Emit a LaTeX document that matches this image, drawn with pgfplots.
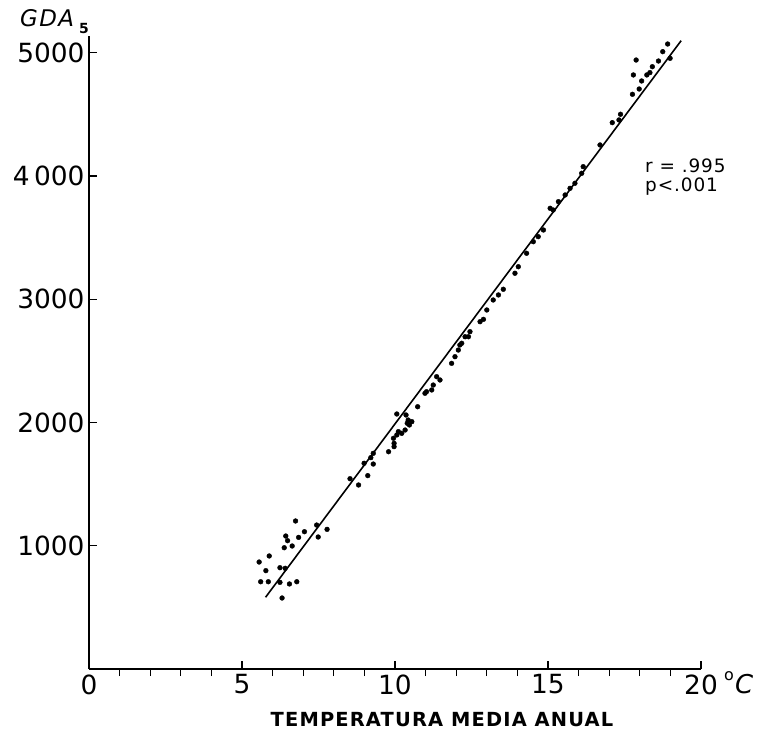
\documentclass[border=0pt]{standalone}
\usepackage{pgfplots}
\pgfplotsset{compat=1.18}
\usepackage{fontspec}
\setmainfont{DejaVu Sans}
\begin{document}
\begin{tikzpicture}
\useasboundingbox (-89bp,-62bp) rectangle (679bp,669bp);
\begin{axis}[
  at={(0,0)}, anchor=south west,
  scale only axis, width=612bp, height=633bp,
  xmin=0, xmax=20, ymin=0, ymax=5136,
  clip=false,
  axis lines=left, axis line style={-, line width=1.6bp},
  xtick={0,5,10,15,20}, xticklabels={0,5,10,15,20},
  minor xtick={1,2,3,4,6,7,8,9,11,12,13,14,16,17,18,19},
  ytick={1000,2000,3000,4000,5000}, yticklabels={1000,2000,3000,4\,000,5000},
  tick align=inside, major tick length=8bp, minor tick length=7bp,
  tick style={line width=1.1bp, black},
  minor tick style={yshift=-7bp},
  ticklabel style={font=\fontsize{26.5}{26.5}\selectfont},
  xticklabel style={anchor=north, yshift=-2bp},
  yticklabel style={anchor=east, xshift=-1bp},
]
\addplot[only marks, mark=*, mark size=2.4bp, black] coordinates {
(6.75,1201) (7.44,1168) (7.78,1133) (7.04,1114) (6.43,1079) (6.85,1068) (6.49,1041) (7.49,1071)
(6.64,998) (6.38,984) (5.89,917) (5.56,868) (5.78,798) (6.24,822) (6.41,817) (5.61,708)
(5.86,708) (6.24,703) (6.55,690) (6.79,708) (6.31,576)
(8.53,1544) (8.81,1493) (9.11,1569) (8.99,1669) (9.29,1663) (9.21,1715) (9.29,1750) (9.79,1763)
(9.97,1804) (9.95,1872) (10.06,1899) (10.11,1926) (10.06,2069) (10.36,2061) (10.40,1994) (10.43,2020)
(10.74,2128) (10.47,1980) (10.33,1939) (10.22,1912) (9.97,1831) (11.03,2250) (11.20,2264) (11.25,2304)
(11.47,2345) (10.55,2007) (10.98,2237) (11.36,2372) (11.85,2480) (11.96,2534) (12.07,2588) (12.18,2643)
(12.40,2696) (12.45,2737) (12.12,2629) (12.29,2696) (12.78,2818) (12.89,2837) (13.0,2913) (13.21,2994)
(13.38,3035) (13.54,3081) (13.92,3211) (14.03,3264) (14.30,3373) (14.52,3467)
(14.68,3508) (14.85,3562) (15.07,3738) (15.17,3724) (15.34,3792) (15.56,3846) (15.72,3900) (15.88,3941)
(16.10,4022) (16.15,4076) (16.70,4252)
(17.10,4433) (17.32,4455) (17.37,4501) (17.76,4663) (17.98,4706) (18.06,4771) (17.79,4820) (18.23,4820)
(18.33,4839) (18.41,4887) (18.61,4933) (17.88,4941) (18.75,5009) (18.99,4955) (18.91,5071)
};
\addplot[black, line width=1.6bp] coordinates {(5.77,582) (19.35,5098)};
\end{axis}
\node[anchor=base west, inner sep=0pt, font=\fontsize{23}{23}\selectfont\itshape\addfontfeature{LetterSpace=6}] at (-69bp,642bp) {GDA};
\node[anchor=base west, inner sep=0pt, font=\fontsize{14}{14}\selectfont\bfseries] at (-10bp,635bp) {5};
\node[anchor=base west, inner sep=0pt, font=\fontsize{16}{16}\selectfont] at (635bp,-11bp) {o};
\node[anchor=base west, inner sep=0pt, font=\fontsize{26}{26}\selectfont\itshape] at (646bp,-24bp) {C};
\node[anchor=base west, inner sep=0pt, font=\fontsize{18.5}{18.5}\selectfont\addfontfeature{LetterSpace=5}] at (556bp,496bp) {r = .995};
\node[anchor=base west, inner sep=0pt, font=\fontsize{18.5}{18.5}\selectfont\addfontfeature{LetterSpace=5}] at (556bp,477bp) {p<.001};
\node[anchor=base, inner sep=0pt, font=\fontsize{19.5}{19.5}\selectfont\bfseries\addfontfeature{LetterSpace=6}] at (353bp,-57bp) {TEMPERATURA MEDIA ANUAL};
\end{tikzpicture}
\end{document}
